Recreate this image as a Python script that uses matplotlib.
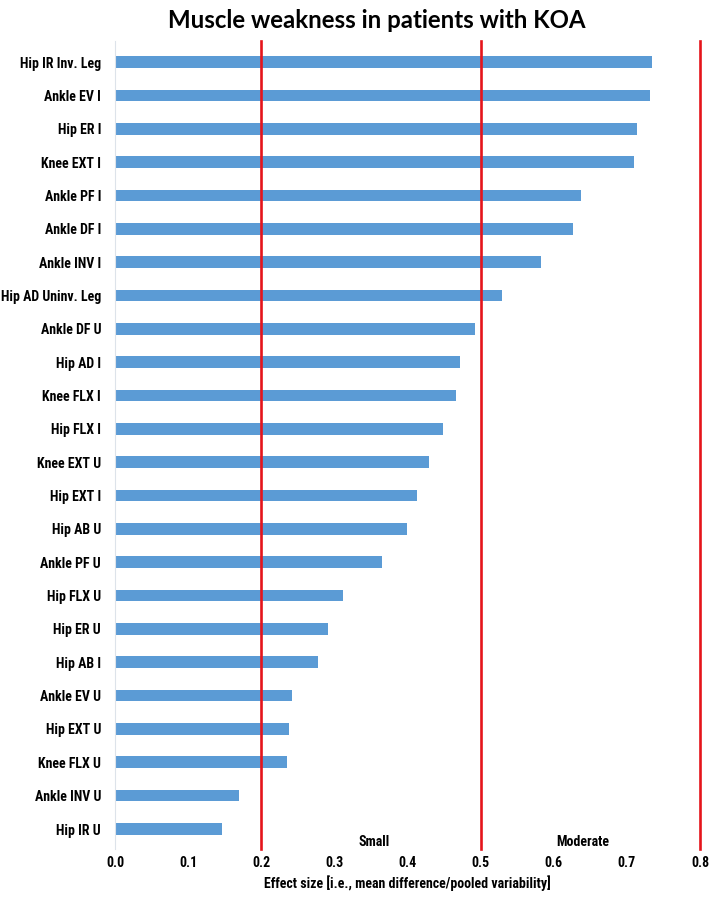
import matplotlib.pyplot as plt
from matplotlib import font_manager

muscles = ["Hip IR Inv. Leg", "Ankle EV I", "Hip ER I", "Knee EXT I", "Ankle PF I",
           "Ankle DF I", "Ankle INV I", "Hip AD Uninv. Leg", "Ankle DF U", "Hip AD I",
           "Knee FLX I", "Hip FLX I", "Knee EXT U", "Hip EXT I", "Hip AB U",
           "Ankle PF U", "Hip FLX U", "Hip ER U", "Hip AB I", "Ankle EV U",
           "Hip EXT U", "Knee FLX U", "Ankle INV U", "Hip IR U"]
effect_size = [0.735, 0.732, 0.714, 0.710, 0.637, 0.626, 0.583, 0.529, 0.492, 0.472,
               0.466, 0.449, 0.429, 0.413, 0.399, 0.365, 0.312, 0.291, 0.278, 0.242,
               0.2375, 0.235, 0.169, 0.147]
thresholds = [0.2, 0.5, 0.8]
zone_labels = ["Small", "Moderate"]
zone_pos = [0.354, 0.64]
xticks = [0.0, 0.1, 0.2, 0.3, 0.4, 0.5, 0.6, 0.7, 0.8]

names = {f.name for f in font_manager.fontManager.ttflist}
narrow = "Liberation Sans"
for cand in ["Roboto Condensed", "Liberation Sans Narrow"]:
    if cand in names:
        narrow = cand
        break

fig = plt.figure(figsize=(7.09, 8.99), dpi=100)
ax = fig.add_axes([0.1622, 0.0556, 0.8251, 0.8988])

ypos = list(range(len(muscles)))
ax.barh(ypos, effect_size, height=0.35, color="#5B9BD5", zorder=2)
for t in thresholds:
    ax.axvline(t, color="#E5141B", lw=1.9, zorder=3, clip_on=False)

ax.set_ylim(23.6, -0.63)
ax.set_xlim(0, 0.8)
ax.set_yticks(ypos)
ax.set_yticklabels(muscles, fontfamily=narrow, fontweight="bold", fontsize=10)
ax.set_xticks(xticks)
ax.set_xticklabels([f"{v:.1f}" for v in xticks], fontfamily=narrow, fontweight="bold", fontsize=10)
ax.tick_params(length=0)
ax.tick_params(axis="y", pad=10)
ax.tick_params(axis="x", pad=5)

for s in ["top", "right", "bottom"]:
    ax.spines[s].set_visible(False)
ax.spines["left"].set_color("#dde3ea")
ax.spines["left"].set_linewidth(0.8)

for lab, x in zip(zone_labels, zone_pos):
    ax.text(x, 23.4, lab, ha="center", va="center", fontfamily=narrow,
            fontweight="bold", fontsize=10)

ax.set_xlabel("Effect size [i.e., mean difference/pooled variability]",
              fontfamily=narrow, fontweight="bold", fontsize=10, labelpad=4)
fig.suptitle("Muscle weakness in patients with KOA", x=0.532, y=0.99,
             fontfamily="Lato", fontweight="bold", fontsize=17.3)

fig.savefig("out.png", dpi=100)
